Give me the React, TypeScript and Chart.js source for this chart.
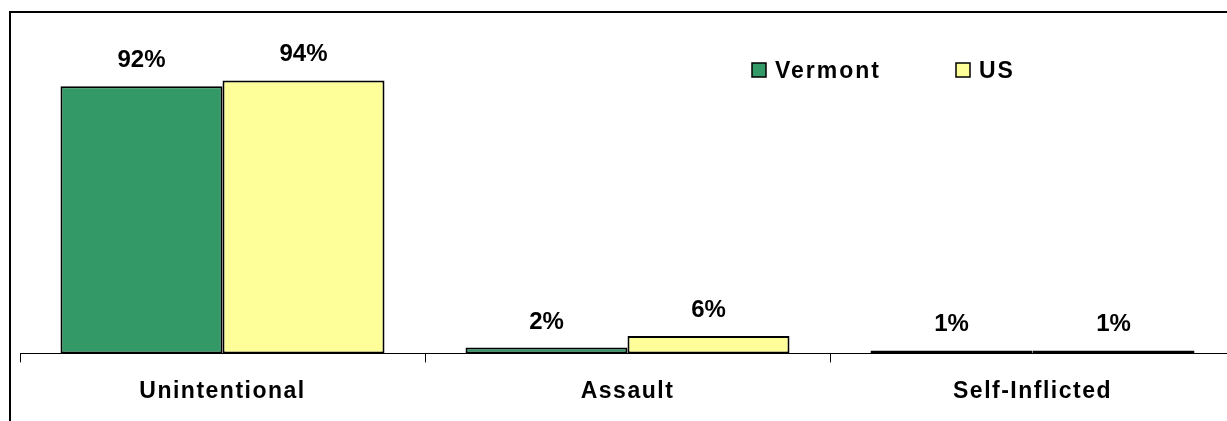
import React, { useEffect, useRef } from "react";
import { Chart, registerables } from "chart.js";

Chart.register(...registerables);

const categories = ["Unintentional", "Assault", "Self-Inflicted"];
const vermontValues = [92, 2, 1];
const usValues = [94, 6, 1];
const seriesNames = ["Vermont", "US"];

const FONT_FAMILY = "'Liberation Sans', Arial, sans-serif";

const framePlugin = {
  id: "frame",
  beforeDraw(chart: any) {
    const ctx = chart.ctx;
    ctx.save();
    ctx.fillStyle = "#ffffff";
    ctx.fillRect(0, 0, chart.width, chart.height);
    ctx.strokeStyle = "#000000";
    ctx.lineWidth = 2;
    ctx.strokeRect(10, 12, chart.width + 50, chart.height + 50);
    ctx.restore();
    // slightly spaced lettering for the axis labels drawn next
    ctx.letterSpacing = "1.5px";
  },
};

const valueLabelPlugin = {
  id: "valueLabels",
  beforeDatasetsDraw(chart: any) {
    chart.ctx.letterSpacing = "0px";
  },
  afterDatasetsDraw(chart: any) {
    const ctx = chart.ctx;
    ctx.save();
    ctx.letterSpacing = "0px";
    ctx.font = `bold 24px ${FONT_FAMILY}`;
    ctx.fillStyle = "#000000";
    ctx.textAlign = "center";
    ctx.textBaseline = "alphabetic";
    chart.data.datasets.forEach((ds: any, i: number) => {
      const meta = chart.getDatasetMeta(i);
      meta.data.forEach((bar: any, j: number) => {
        ctx.fillText(`${ds.data[j]}%`, bar.x, bar.y - 19);
      });
    });
    ctx.restore();
  },
};

const legendPlugin = {
  id: "customLegend",
  afterDraw(chart: any) {
    const ctx = chart.ctx;
    const positions = [752, 956];
    const boxY = 63;
    const box = 14;
    ctx.save();
    ctx.letterSpacing = "2px";
    ctx.font = `bold 23px ${FONT_FAMILY}`;
    ctx.textBaseline = "alphabetic";
    ctx.textAlign = "left";
    chart.data.datasets.forEach((ds: any, i: number) => {
      const x = positions[i];
      ctx.fillStyle = ds.backgroundColor;
      ctx.fillRect(x, boxY, box, box);
      ctx.strokeStyle = "#000000";
      ctx.lineWidth = 1.5;
      ctx.strokeRect(x, boxY, box, box);
      ctx.fillStyle = "#000000";
      ctx.fillText(ds.label, x + 23, boxY + box + 1);
    });
    ctx.restore();
    ctx.letterSpacing = "0px";
  },
};

export default function App() {
  const canvasRef = useRef<HTMLCanvasElement | null>(null);

  useEffect(() => {
    if (!canvasRef.current) return;
    const chart = new Chart(canvasRef.current, {
      type: "bar",
      data: {
        labels: categories,
        datasets: [
          {
            label: seriesNames[0],
            data: vermontValues,
            backgroundColor: "#339966",
            borderColor: "#000000",
            borderWidth: 2,
            borderSkipped: false,
            categoryPercentage: 0.8,
            barPercentage: 1.0,
          },
          {
            label: seriesNames[1],
            data: usValues,
            backgroundColor: "#FFFF99",
            borderColor: "#000000",
            borderWidth: 2,
            borderSkipped: false,
            categoryPercentage: 0.8,
            barPercentage: 1.0,
          },
        ],
      },
      options: {
        animation: false,
        responsive: false,
        maintainAspectRatio: false,
        layout: { padding: { left: 20, top: 63, right: 0, bottom: 1 } },
        plugins: {
          legend: { display: false },
          tooltip: { enabled: false },
        },
        scales: {
          y: {
            display: false,
            min: 0,
            max: 100,
          },
          x: {
            offset: true,
            border: { display: true, color: "#000000", width: 1 },
            grid: {
              display: true,
              offset: true,
              drawOnChartArea: false,
              drawTicks: true,
              tickLength: 9,
              color: "#000000",
              lineWidth: 1,
            },
            ticks: {
              color: "#000000",
              padding: 15,
              font: { family: FONT_FAMILY, size: 23, weight: "bold" },
              maxRotation: 0,
            },
          },
        },
      },
      plugins: [framePlugin, valueLabelPlugin, legendPlugin],
    });
    return () => chart.destroy();
  }, []);

  return (
    <div
      style={{
        position: "fixed",
        left: 0,
        top: 0,
        width: 1227,
        height: 421,
        overflow: "hidden",
        background: "#fff",
      }}
    >
      <canvas ref={canvasRef} width={1235} height={421} style={{ display: "block" }} />
    </div>
  );
}
